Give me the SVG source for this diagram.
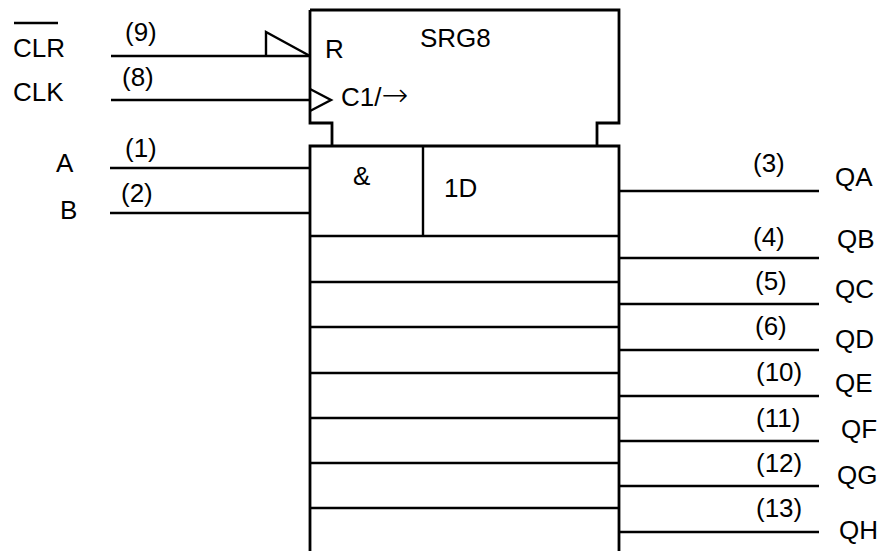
<svg xmlns="http://www.w3.org/2000/svg" width="884" height="551" viewBox="0 0 884 551">
<style>
.t{font-family:"Liberation Sans",Arial,sans-serif;font-size:26px;fill:#000}
.n{font-family:"Liberation Sans",Arial,sans-serif;font-size:26px;fill:#000}
.b{fill:none;stroke:#000;stroke-width:2.8}
.w{fill:none;stroke:#000;stroke-width:2.4}
</style>
<rect width="884" height="551" fill="#fff"/>
<g id="control-block">
<path class="b" d="M310,10 H619 V123 H597 V146 M310,10 V123 H332 V146"/>
<text class="t" x="420" y="47">SRG8</text>
<text class="t" x="325" y="58">R</text>
<text class="t" x="341" y="106">C1/<tspan font-family="DejaVu Sans" font-size="32" font-weight="200">→</tspan></text>
<path class="w" d="M266,56 V32 L310,56"/>
<path class="w" d="M310,89 L331,100 L310,111"/>
</g>
<g id="register">
<path class="b" d="M310,553 V146 H619 V553"/>
<path class="w" d="M423,146 V236 M310,236 H619 M310,282 H619 M310,327 H619 M310,373 H619 M310,418 H619 M310,463 H619 M310,508 H619"/>
<text class="t" x="353" y="185">&amp;</text>
<text class="t" x="444" y="197">1D</text>
</g>
<g id="connectors">
<path class="w" d="M111,56 H310 M111,100 H310 M110,168 H310 M110,213 H310"/>
<path class="w" d="M620,191 H819 M620,258 H819 M620,304 H819 M620,350 H819 M620,396 H819 M620,441 H819 M620,486 H819 M620,532 H819"/>
</g>
<g id="input-labels">
<line x1="14" y1="23" x2="58" y2="23" stroke="#000" stroke-width="2.6"/>
<text class="t" x="13" y="57">CLR</text>
<text class="t" x="13" y="101">CLK</text>
<text class="t" x="56" y="172">A</text>
<text class="t" x="60" y="219">B</text>
<text class="n" x="125" y="41">(9)</text>
<text class="n" x="122" y="86">(8)</text>
<text class="n" x="125" y="157">(1)</text>
<text class="n" x="121" y="202">(2)</text>
</g>
<g id="output-labels">
<text class="n" x="753" y="172">(3)</text>
<text class="n" x="753" y="246">(4)</text>
<text class="n" x="755" y="290">(5)</text>
<text class="n" x="755" y="335">(6)</text>
<text class="n" x="756" y="381">(10)</text>
<text class="n" x="756" y="427">(11)</text>
<text class="n" x="756" y="472">(12)</text>
<text class="n" x="756" y="517">(13)</text>
<text class="t" x="835" y="186">QA</text>
<text class="t" x="837" y="248">QB</text>
<text class="t" x="835" y="298">QC</text>
<text class="t" x="835" y="348">QD</text>
<text class="t" x="835" y="392">QE</text>
<text class="t" x="841" y="438">QF</text>
<text class="t" x="837" y="484">QG</text>
<text class="t" x="839" y="539">QH</text>
</g>
</svg>
